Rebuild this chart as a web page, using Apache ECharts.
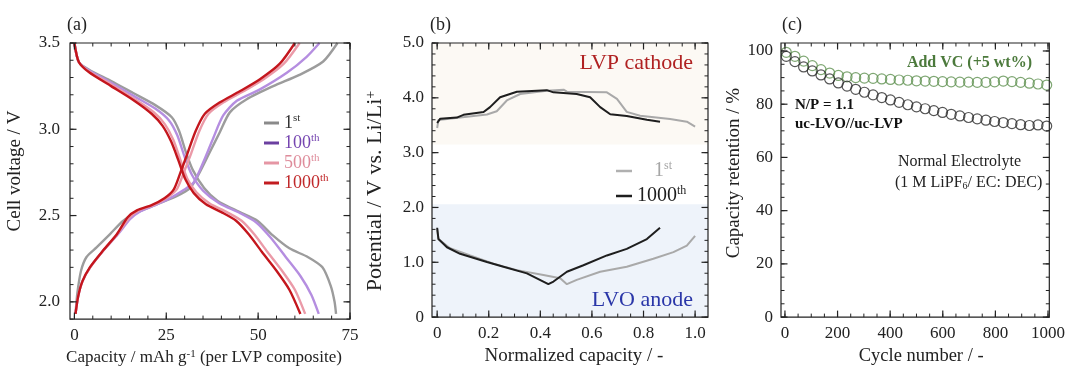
<!DOCTYPE html>
<html>
<head>
<meta charset="utf-8">
<script src="https://cdn.jsdelivr.net/npm/echarts@6/dist/echarts.min.js"></script>
<style>
  html, body { margin: 0; padding: 0; background: #fff; }
  #chart { width: 1068px; height: 371px; }
</style>
</head>
<body>
<div id="chart"></div>
<script>
// ---------- (a) full-cell charge / discharge profiles: [capacity (mAh/g), cell voltage (V)]
const dis1st = [[0,3.5],[1.2,3.39],[4,3.345],[10,3.28],[16,3.21],[22,3.14],[26.5,3.07],[28.5,2.99],[30.3,2.87],[32.2,2.765],[35.3,2.66],[39,2.585],[45,2.52],[49.8,2.47],[54,2.385],[58.5,2.31],[63.5,2.26],[67.5,2.2],[69.8,2.09],[70.8,2.0],[71.2,1.93]];
const chg1st = [[0.3,1.93],[0.8,2.05],[1.8,2.18],[3.3,2.26],[6.1,2.317],[9.7,2.393],[13.3,2.47],[17,2.517],[22.4,2.565],[27.8,2.612],[31.5,2.66],[34.2,2.755],[36.9,2.87],[39.6,2.984],[42.3,3.098],[46.9,3.174],[54.1,3.25],[61.4,3.317],[67.7,3.393],[71.6,3.5]];
const dis100 = [[0,3.5],[1.2,3.39],[4,3.34],[10,3.27],[16,3.195],[22,3.12],[25.8,3.05],[28,2.965],[30,2.84],[32,2.735],[35,2.645],[39.5,2.57],[45,2.515],[49.5,2.46],[53.5,2.37],[57.5,2.26],[61.5,2.15],[64.5,2.04],[66.5,1.93]];
const chg100 = [[0.3,1.93],[1.0,2.03],[2.2,2.12],[4.3,2.2],[8,2.3],[11.8,2.39],[15.2,2.48],[18,2.525],[22,2.56],[26,2.6],[29.5,2.645],[32.4,2.69],[35.1,2.81],[37.8,2.95],[40.5,3.08],[44.2,3.165],[50.5,3.231],[57.8,3.327],[63.2,3.42],[66.7,3.5]];
const dis500 = [[0,3.5],[1.2,3.39],[4,3.335],[10,3.26],[16,3.18],[21.5,3.1],[24.6,3.03],[26.9,2.94],[28.9,2.82],[30.8,2.71],[33.2,2.635],[36.8,2.57],[41.5,2.52],[45.5,2.47],[49,2.39],[52.5,2.29],[56.5,2.18],[60,2.07],[62.8,1.93]];
const chg500 = [[0.3,1.93],[1.0,2.03],[2.2,2.12],[4.3,2.2],[8,2.3],[11.6,2.39],[14.8,2.485],[17.5,2.53],[21.5,2.56],[25,2.6],[27.8,2.65],[29.6,2.74],[31.6,2.85],[34,2.99],[36.5,3.09],[40.5,3.155],[46,3.22],[51.5,3.29],[57,3.38],[61.3,3.5]];
const dis1000 = [[0,3.5],[1.2,3.39],[4,3.33],[10,3.25],[16,3.17],[21,3.09],[24,3.02],[26.3,2.93],[28.3,2.82],[30.2,2.71],[32.5,2.63],[35.8,2.565],[40,2.52],[44,2.47],[47.5,2.39],[51,2.29],[55,2.18],[58.5,2.07],[61.5,1.93]];
const chg1000 = [[0.3,1.93],[1.0,2.03],[2.2,2.12],[4.2,2.2],[7.9,2.3],[11.5,2.39],[14.5,2.49],[17,2.53],[21,2.56],[24.5,2.6],[27,2.65],[28.7,2.74],[30.6,2.85],[33,2.99],[35.5,3.09],[39.5,3.155],[45,3.22],[50.5,3.29],[55.9,3.38],[60,3.5]];

// ---------- (b) electrode potentials vs. Li/Li+: [normalized capacity, potential (V)]
const cathode1st = [[0,3.45],[0.005,3.595],[0.081,3.637],[0.193,3.696],[0.231,3.756],[0.27,3.952],[0.322,4.07],[0.425,4.13],[0.49,4.149],[0.503,4.113],[0.658,4.1],[0.697,3.982],[0.735,3.744],[0.787,3.673],[0.903,3.613],[0.968,3.565],[1.0,3.476]];
const cathode1000 = [[0,3.54],[0.012,3.62],[0.076,3.64],[0.102,3.69],[0.18,3.74],[0.205,3.83],[0.244,4.01],[0.309,4.11],[0.425,4.14],[0.431,4.16],[0.451,4.1],[0.541,4.07],[0.593,4.01],[0.632,3.83],[0.671,3.7],[0.735,3.67],[0.813,3.6],[0.864,3.565]];
const anode1st = [[0,1.6],[0.005,1.423],[0.05,1.256],[0.128,1.125],[0.218,0.976],[0.309,0.857],[0.412,0.768],[0.477,0.708],[0.503,0.601],[0.541,0.679],[0.632,0.827],[0.735,0.917],[0.838,1.065],[0.916,1.185],[0.968,1.304],[1.0,1.482]];
const anode1000 = [[0,1.63],[0.005,1.423],[0.038,1.274],[0.089,1.155],[0.193,1.006],[0.257,0.917],[0.348,0.798],[0.431,0.601],[0.451,0.649],[0.503,0.827],[0.567,0.946],[0.658,1.125],[0.735,1.244],[0.813,1.423],[0.864,1.631]];
const cathodeBand = [3.15, 5.0];
const anodeBand = [0, 2.06];

// ---------- (c) capacity retention (%) vs. cycle number
const cycles = [5,38,71,104,137,170,203,236,269,302,335,368,401,434,467,500,533,566,599,632,665,698,731,764,797,830,863,896,929,962,995];
const retentionNormal = [98,96,94,92.5,91,89.5,88,86.8,85.6,84.5,83.5,82.5,81.6,80.7,79.8,79,78.3,77.6,76.9,76.2,75.6,75,74.5,74,73.5,73.1,72.7,72.3,72,72.2,71.8];
const retentionVC = [99.5,98,96.2,94.5,93,91.7,90.8,90.3,90,89.8,89.7,89.5,89.3,89.1,89,88.8,88.7,88.6,88.5,88.4,88.3,88.3,88.2,88.2,88.4,88.7,88.5,88.2,87.9,87.6,87.2];

// ---------- tick values
const aMajorX = [0, 25, 50, 75];
const aMajorY = [2.0, 2.5, 3.0, 3.5];
const bMajorX = [0, 0.2, 0.4, 0.6, 0.8, 1.0];
const bMajorY = [0, 1, 2, 3, 4, 5];
const cMajorX = [0, 200, 400, 600, 800, 1000];
const cMajorY = [0, 20, 40, 60, 80, 100];

const SERIF = '"Liberation Serif", "Times New Roman", serif';
const INK = '#222';

function steps(from, to, step) {
  const out = [];
  for (let i = 0; from + i * step <= to + 1e-9; i++) out.push(+(from + i * step).toFixed(4));
  return out;
}

const oneDec = v => v.toFixed(1);
const zeroOrDec = v => (v === 0 ? '0' : v.toFixed(1));
const whole = v => String(Math.round(v));

const panels = [
  { left: 70,  top: 43, width: 280, height: 280 },
  { left: 432, top: 43, width: 276, height: 280 },
  { left: 781, top: 43, width: 273, height: 280 }
];

const scalesX = [
  { min: -1.2, max: 75, major: aMajorX, minor: steps(0, 75, 5), fmt: whole,
    name: '{n|Capacity / mAh g}{s|-1}{n| (per LVP composite)}', nameGap: 26, size: 17, pad: [0, 12, 0, 0] },
  { min: -0.02, max: 1.05, major: bMajorX, minor: steps(0, 1, 0.05), fmt: zeroOrDec,
    name: '{n|Normalized capacity / -}', nameGap: 25, size: 19, pad: [0, 0, 0, 8] },
  { min: -15, max: 1005, major: cMajorX, minor: steps(0, 1000, 50), fmt: whole,
    name: '{n|Cycle number / -}', nameGap: 22, size: 18.5, pad: [0, 0, 0, 12] }
];
const scalesY = [
  { min: 1.9, max: 3.5, major: aMajorY, minor: steps(1.9, 3.5, 0.1), fmt: oneDec,
    name: '{n|Cell voltage / V}', nameGap: 45, size: 19, pad: [0, 0, 0, 20] },
  { min: 0, max: 5, major: bMajorY, minor: steps(0, 5, 0.2), fmt: zeroOrDec,
    name: '{n|Potential / V vs. Li/Li}{s|+}', nameGap: 46, size: 22, pad: [0, 22, 0, 0] },
  { min: 0, max: 103, major: cMajorY, minor: steps(0, 100, 5), fmt: whole,
    name: '{n|Capacity retention / %}', nameGap: 33, size: 19, pad: [0, 0, 0, 14] }
];

function nameStyle(s) {
  return {
    fontFamily: SERIF, fontSize: s.size, color: INK, padding: s.pad,
    rich: {
      n: { fontFamily: SERIF, fontSize: s.size, color: INK },
      s: { fontFamily: SERIF, fontSize: Math.round(s.size * 0.62), color: INK, verticalAlign: 'top' }
    }
  };
}

function labelAxis(s, grid, margin) {
  return {
    type: 'value', gridIndex: grid, min: s.min, max: s.max,
    axisLine: { show: false, onZero: false },
    axisTick: { show: false },
    splitLine: { show: false },
    axisLabel: { show: true, customValues: s.major, formatter: s.fmt, margin: margin, color: INK, fontFamily: SERIF, fontSize: 17 },
    name: s.name, nameLocation: 'middle', nameGap: s.nameGap, nameTextStyle: nameStyle(s)
  };
}

// Frame + inward ticks on all four sides, positioned through the axis scales.
function frameSeries(g) {
  const sx = scalesX[g], sy = scalesY[g];
  const rows = [[2, 0, 0]];
  sx.minor.forEach(v => rows.push([0, v, 0]));
  sx.major.forEach(v => rows.push([0, v, 1]));
  sy.minor.forEach(v => rows.push([1, v, 0]));
  sy.major.forEach(v => rows.push([1, v, 1]));
  return {
    type: 'custom', name: 'frame' + g, xAxisIndex: g, yAxisIndex: g,
    data: rows, z: 20, silent: true, clip: false,
    renderItem: function (params, api) {
      const cs = params.coordSys;
      const kind = api.value(0), v = api.value(1), major = api.value(2);
      if (kind === 2) {
        return { type: 'rect', shape: { x: cs.x, y: cs.y, width: cs.width, height: cs.height },
                 style: { fill: null, stroke: INK, lineWidth: 1.2 } };
      }
      const len = major ? 6.5 : 3.5;
      const lw = major ? 1.2 : 1;
      const mk = (x1, y1, x2, y2) => ({ type: 'line', shape: { x1, y1, x2, y2 }, style: { stroke: INK, lineWidth: lw } });
      if (kind === 0) {
        const x = api.coord([v, sy.min])[0];
        const yb = cs.y + cs.height, yt = cs.y;
        return { type: 'group', children: [mk(x, yb, x, yb - len), mk(x, yt, x, yt + len)] };
      }
      const y = api.coord([sx.min, v])[1];
      const xl = cs.x, xr = cs.x + cs.width;
      return { type: 'group', children: [mk(xl, y, xl + len, y), mk(xr, y, xr - len, y)] };
    }
  };
}

const cyclesA = [
  { name: '1st',    color: '#9c9c9c', dis: dis1st,  chg: chg1st },
  { name: '100th',  color: '#b58ee0', dis: dis100,  chg: chg100 },
  { name: '500th',  color: '#eb9aa8', dis: dis500,  chg: chg500 },
  { name: '1000th', color: '#c4161d', dis: dis1000, chg: chg1000 }
];

const series = [];
cyclesA.forEach(c => {
  [c.dis, c.chg].forEach(d => series.push({
    type: 'line', name: c.name, xAxisIndex: 0, yAxisIndex: 0, data: d,
    showSymbol: false, smooth: 0.25, color: c.color,
    lineStyle: { color: c.color, width: 2.4 }, silent: true
  }));
});

const halfCells = [
  { name: 'half-cell 1st',    color: '#a9a9a9', data: [cathode1st, anode1st] },
  { name: 'half-cell 1000th', color: '#1e1e1e', data: [cathode1000, anode1000] }
];
halfCells.forEach((h, hi) => {
  h.data.forEach((d, di) => {
    const s = {
      type: 'line', name: h.name, xAxisIndex: 1, yAxisIndex: 1, data: d,
      showSymbol: false, color: h.color, lineStyle: { color: h.color, width: 2 }, silent: true
    };
    if (hi === 0 && di === 0) {
      s.markArea = {
        silent: true,
        data: [
          [{ xAxis: scalesX[1].min, yAxis: cathodeBand[0], itemStyle: { color: '#fcf9f4' } }, { xAxis: scalesX[1].max, yAxis: cathodeBand[1] }],
          [{ xAxis: scalesX[1].min, yAxis: anodeBand[0], itemStyle: { color: '#eef3fa' } }, { xAxis: scalesX[1].max, yAxis: anodeBand[1] }]
        ]
      };
    }
    series.push(s);
  });
});

series.push({
  type: 'scatter', name: 'Add VC', xAxisIndex: 2, yAxisIndex: 2,
  data: cycles.map((c, i) => [c, retentionVC[i]]),
  symbol: 'circle', symbolSize: 10,
  itemStyle: { color: 'rgba(0,0,0,0)', borderColor: '#5f9150', borderWidth: 1.2 }, silent: true
});
series.push({
  type: 'scatter', name: 'Normal', xAxisIndex: 2, yAxisIndex: 2,
  data: cycles.map((c, i) => [c, retentionNormal[i]]),
  symbol: 'circle', symbolSize: 10,
  itemStyle: { color: 'rgba(0,0,0,0)', borderColor: '#2a2a2a', borderWidth: 1.2 }, silent: true
});

panels.forEach((p, g) => series.push(frameSeries(g)));

function ordinal(label) {
  const m = label.match(/^(\d+)(\D+)$/);
  return '{n|' + m[1] + '}{s|' + m[2] + '}';
}

const option = {
  backgroundColor: '#fff',
  animation: false,
  grid: panels,
  xAxis: scalesX.map((s, g) => labelAxis(s, g, 8)),
  yAxis: scalesY.map((s, g) => labelAxis(s, g, g === 0 ? 10 : 8)),
  legend: [
    {
      orient: 'vertical', left: 259, top: 108, itemGap: 0, itemWidth: 15, itemHeight: 3, icon: 'rect',
      selectedMode: false,
      formatter: ordinal,
      textStyle: {
        fontFamily: SERIF, fontSize: 18, lineHeight: 20,
        rich: { n: { fontFamily: SERIF, fontSize: 18 }, s: { fontFamily: SERIF, fontSize: 11, verticalAlign: 'top' } }
      },
      data: [
        { name: '1st',    itemStyle: { color: '#8a8a8a' }, textStyle: { color: '#333' } },
        { name: '100th',  itemStyle: { color: '#6b3fa0' }, textStyle: { color: '#7545b0' } },
        { name: '500th',  itemStyle: { color: '#e596a4' }, textStyle: { color: '#de8c9b' } },
        { name: '1000th', itemStyle: { color: '#c21c20' }, textStyle: { color: '#c0282a' } }
      ]
    },
    {
      orient: 'vertical', left: 611, top: 155, itemGap: 3, itemWidth: 16, itemHeight: 2.5, icon: 'rect',
      selectedMode: false,
      formatter: name => name === 'half-cell 1st' ? '{p|}{n|1}{s|st}' : '{n|1000}{s|th}',
      textStyle: {
        fontFamily: SERIF, fontSize: 20, lineHeight: 22,
        rich: {
          p: { width: 17 },
          n: { fontFamily: SERIF, fontSize: 20 },
          s: { fontFamily: SERIF, fontSize: 12, verticalAlign: 'top' }
        }
      },
      data: [
        { name: 'half-cell 1st',    itemStyle: { color: '#b0b0b0' }, textStyle: { color: '#a6a6a6' } },
        { name: 'half-cell 1000th', itemStyle: { color: '#1e1e1e' }, textStyle: { color: '#1e1e1e' } }
      ]
    }
  ],
  graphic: [
    { type: 'text', x: 67,  y: 25, style: { text: '(a)', font: '18px ' + SERIF, fill: INK, textVerticalAlign: 'middle' } },
    { type: 'text', x: 430, y: 25, style: { text: '(b)', font: '18px ' + SERIF, fill: INK, textVerticalAlign: 'middle' } },
    { type: 'text', x: 782, y: 25, style: { text: '(c)', font: '18px ' + SERIF, fill: INK, textVerticalAlign: 'middle' } },
    { type: 'text', x: 693, y: 63,  z: 30, style: { text: 'LVP cathode', font: '22px ' + SERIF, fill: '#b02222', textAlign: 'right', textVerticalAlign: 'middle' } },
    { type: 'text', x: 693, y: 300, z: 30, style: { text: 'LVO anode', font: '22px ' + SERIF, fill: '#2a36a8', textAlign: 'right', textVerticalAlign: 'middle' } },
    { type: 'text', x: 1032, y: 63, z: 30, style: { text: 'Add VC (+5 wt%)', font: 'bold 16px ' + SERIF, fill: '#4c7a3c', textAlign: 'right', textVerticalAlign: 'middle' } },
    { type: 'text', x: 795, y: 105, z: 30, style: { text: 'N/P = 1.1', font: 'bold 15px ' + SERIF, fill: '#111', textVerticalAlign: 'middle' } },
    { type: 'text', x: 795, y: 124, z: 30, style: { text: 'uc-LVO//uc-LVP', font: 'bold 15px ' + SERIF, fill: '#111', textVerticalAlign: 'middle' } },
    { type: 'text', x: 898, y: 162, z: 30, style: { text: 'Normal Electrolyte', font: '16px ' + SERIF, fill: '#222', textVerticalAlign: 'middle' } },
    {
      type: 'text', x: 895, y: 183, z: 30,
      style: {
        text: '{n|(1 M LiPF}{b|6}{n|/ EC: DEC)}', fill: '#222', textVerticalAlign: 'middle',
        rich: {
          n: { fontFamily: SERIF, fontSize: 16, fill: '#222' },
          b: { fontFamily: SERIF, fontSize: 10, fill: '#222', verticalAlign: 'bottom' }
        }
      }
    }
  ],
  series: series
};

const chart = echarts.init(document.getElementById('chart'), null, { renderer: 'canvas' });
chart.setOption(option);
</script>
</body>
</html>
